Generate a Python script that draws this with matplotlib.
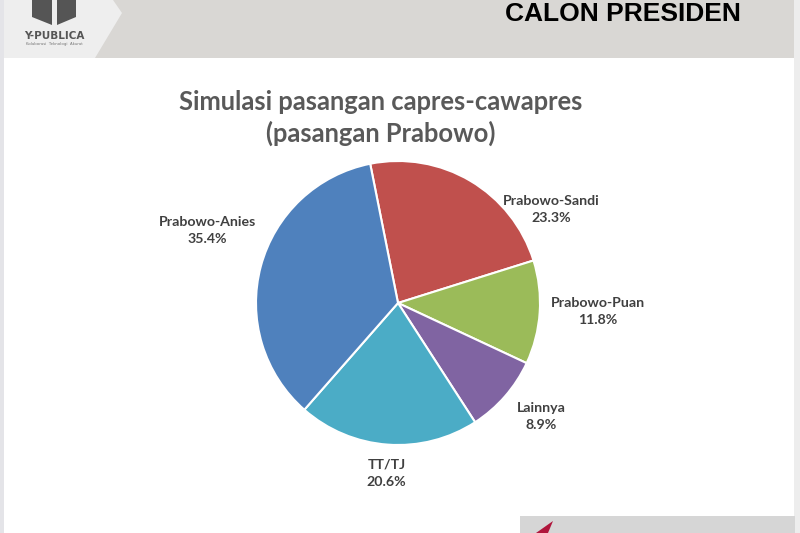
import matplotlib
matplotlib.use("Agg")
import matplotlib.pyplot as plt
from matplotlib.patches import Polygon, Rectangle

# Data
labels = ["Prabowo-Sandi", "Prabowo-Puan", "Lainnya", "TT/TJ", "Prabowo-Anies"]
values = [23.3, 11.8, 8.9, 20.6, 35.4]
colors = ["#C0504D", "#9BBB59", "#8064A2", "#4BACC6", "#4F81BD"]
# label anchor positions in pie radius units
label_xy = [(1.08, 0.66), (1.41, -0.06), (1.01, -0.80), (-0.08, -1.20), (-1.345, 0.51)]

title = "Simulasi pasangan capres-cawapres\n(pasangan Prabowo)"
header = "CALON PRESIDEN"

W, H = 800, 533
fig = plt.figure(figsize=(W / 100, H / 100), dpi=100)
fig.patch.set_facecolor("white")

# Background layer in pixel coordinates
bg = fig.add_axes([0, 0, 1, 1])
bg.set_xlim(0, W)
bg.set_ylim(H, 0)
bg.axis("off")

bg.add_patch(Rectangle((0, 0), W, 58, color="#D9D7D4", lw=0))
bg.add_patch(Polygon([(0, 0), (113, 0), (122, 13), (95, 58), (0, 58)], color="#EEEEEE", lw=0))
bg.add_patch(Rectangle((0, 0), 4, H, color="#E4E4E8", lw=0))
bg.add_patch(Rectangle((794, 0), 6, H, color="#EDEDED", lw=0))
bg.add_patch(Rectangle((520, 516), 275, 17, color="#D6D6D6", lw=0))
bg.add_patch(Polygon([(536, 533), (553, 521), (548, 533)], color="#B0163C", lw=0))

# logo
bg.add_patch(Polygon([(32, 0), (52, 0), (52, 25), (32, 17)], color="#555555", lw=0))
bg.add_patch(Polygon([(57, 0), (76, 0), (76, 17), (57, 25)], color="#555555", lw=0))
bg.text(54, 36, "Y-PUBLICA", ha="center", va="center", fontsize=7.5,
        fontweight="bold", color="#555555", family="DejaVu Sans")
bg.text(54, 44, "Kolaborasi  Teknologi  Akurat", ha="center", va="center", fontsize=2.8,
        color="#777777")

bg.text(623, 14, header, ha="center", va="center", fontsize=19, fontweight="bold",
        color="black", family="Liberation Sans")
bg.text(381, 118, title, ha="center", va="center", fontsize=18.4, fontweight="bold",
        color="#595959", family="Lato", linespacing=1.3)

# Pie
cx, cy, r = 398, 303, 142
ax = fig.add_axes([(cx - r) / W, (H - cy - r) / H, 2 * r / W, 2 * r / H])
ax.pie(values, colors=colors, startangle=101.3, counterclock=False,
       wedgeprops=dict(edgecolor="white", linewidth=1.5))
ax.set_xlim(-1, 1)
ax.set_ylim(-1, 1)

for lab, v, (lx, ly) in zip(labels, values, label_xy):
    ax.text(lx, ly, f"{lab}\n{v:.1f}%", ha="center", va="center", fontsize=10.2,
            fontweight="bold", color="#404040", family="Lato", linespacing=1.55,
            clip_on=False)

fig.savefig("out.png", dpi=100)
